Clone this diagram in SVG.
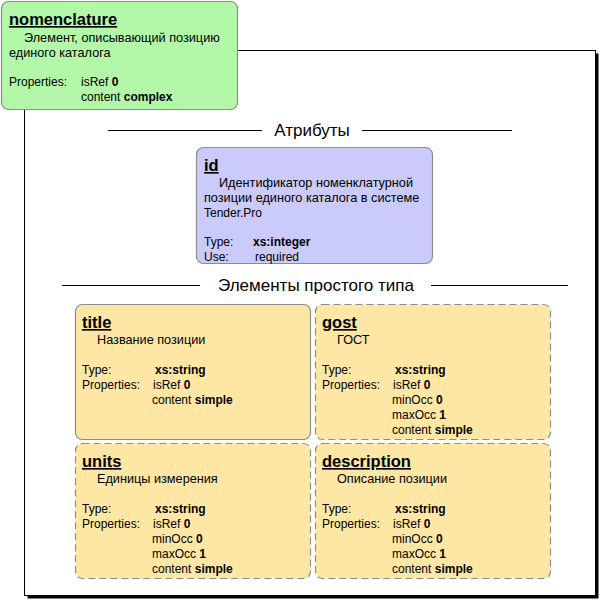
<svg xmlns="http://www.w3.org/2000/svg" width="601" height="601" viewBox="0 0 601 601">
<style>
text{font-family:"Liberation Sans",Arial,sans-serif;fill:#000}
.t{font-size:12px}
.c{font-size:12.7px}
.h{font-size:16.5px;font-weight:bold;text-decoration:underline}
.b{font-weight:bold}
.sec{font-size:17px;text-anchor:middle}
.box{stroke:#8c8c8c;stroke-width:1.2}
.dash{stroke-dasharray:7,4}
.g{fill:#b3f8a9}
.p{fill:#cacafb}
.y{fill:#fee7a5}
.ln{stroke:#000;stroke-width:1}
</style>
<rect x="0" y="0" width="601" height="601" fill="#fff"/>
<g id="frame">
<rect x="27.5" y="53.5" width="571" height="545" fill="#000"/>
<rect x="24.5" y="50.5" width="571" height="545" fill="#fff" stroke="#000" stroke-width="1"/>
</g>
<g id="connectors">
<line class="ln" x1="108" y1="130.5" x2="262" y2="130.5"/>
<line class="ln" x1="362" y1="130.5" x2="512" y2="130.5"/>
<line class="ln" x1="62" y1="285.5" x2="200" y2="285.5"/>
<line class="ln" x1="431" y1="285.5" x2="568" y2="285.5"/>
</g>
<g id="sections">
<text class="sec" x="312" y="136">Атрибуты</text>
<text class="sec" x="316" y="291">Элементы простого типа</text>
</g>
<g id="nomenclature">
<rect class="box g" x="1.5" y="1.5" width="236" height="108" rx="7"/>
<text class="h" x="9" y="25">nomenclature</text>
<text class="c" x="24" y="42">Элемент, описывающий позицию</text>
<text class="c" x="9" y="57">единого каталога</text>
<text class="t" x="9" y="86">Properties:</text>
<text class="t" x="81" y="86">isRef <tspan class="b">0</tspan></text>
<text class="t" x="81" y="101">content <tspan class="b">complex</tspan></text>
</g>
<g id="id">
<rect class="box p" x="196.5" y="147.5" width="236" height="116" rx="7"/>
<text class="h" x="204" y="171">id</text>
<text class="c" x="219" y="187">Идентификатор номенклатурной</text>
<text class="c" x="204" y="202">позиции единого каталога в системе</text>
<text class="t" x="204" y="217">Tender.Pro</text>
<text class="t" x="204" y="246">Type:</text>
<text class="t b" x="253" y="246">xs:integer</text>
<text class="t" x="204" y="261">Use:</text>
<text class="t" x="255" y="261">required</text>
</g>
<g id="title">
<rect class="box y" x="75.5" y="304.5" width="235" height="135" rx="7"/>
<text class="h" x="82" y="328">title</text>
<text class="c" x="97" y="344">Название позиции</text>
<text class="t" x="82" y="374">Type:</text>
<text class="t b" x="155" y="374">xs:string</text>
<text class="t" x="82" y="389">Properties:</text>
<text class="t" x="153" y="389">isRef <tspan class="b">0</tspan></text>
<text class="t" x="152" y="404">content <tspan class="b">simple</tspan></text>
</g>
<g id="gost">
<rect class="box dash y" x="315.5" y="304.5" width="235" height="135" rx="7"/>
<text class="h" x="322" y="328">gost</text>
<text class="c" x="337" y="344">ГОСТ</text>
<text class="t" x="322" y="374">Type:</text>
<text class="t b" x="395" y="374">xs:string</text>
<text class="t" x="322" y="389">Properties:</text>
<text class="t" x="393" y="389">isRef <tspan class="b">0</tspan></text>
<text class="t" x="392" y="404">minOcc <tspan class="b">0</tspan></text>
<text class="t" x="392" y="419">maxOcc <tspan class="b">1</tspan></text>
<text class="t" x="392" y="434">content <tspan class="b">simple</tspan></text>
</g>
<g id="units">
<rect class="box dash y" x="75.5" y="443.5" width="235" height="135" rx="7"/>
<text class="h" x="82" y="467">units</text>
<text class="c" x="97" y="483">Единицы измерения</text>
<text class="t" x="82" y="513">Type:</text>
<text class="t b" x="155" y="513">xs:string</text>
<text class="t" x="82" y="528">Properties:</text>
<text class="t" x="153" y="528">isRef <tspan class="b">0</tspan></text>
<text class="t" x="152" y="543">minOcc <tspan class="b">0</tspan></text>
<text class="t" x="152" y="558">maxOcc <tspan class="b">1</tspan></text>
<text class="t" x="152" y="573">content <tspan class="b">simple</tspan></text>
</g>
<g id="description">
<rect class="box dash y" x="315.5" y="443.5" width="235" height="135" rx="7"/>
<text class="h" x="322" y="467">description</text>
<text class="c" x="337" y="483">Описание позиции</text>
<text class="t" x="322" y="513">Type:</text>
<text class="t b" x="395" y="513">xs:string</text>
<text class="t" x="322" y="528">Properties:</text>
<text class="t" x="393" y="528">isRef <tspan class="b">0</tspan></text>
<text class="t" x="392" y="543">minOcc <tspan class="b">0</tspan></text>
<text class="t" x="392" y="558">maxOcc <tspan class="b">1</tspan></text>
<text class="t" x="392" y="573">content <tspan class="b">simple</tspan></text>
</g>
</svg>
